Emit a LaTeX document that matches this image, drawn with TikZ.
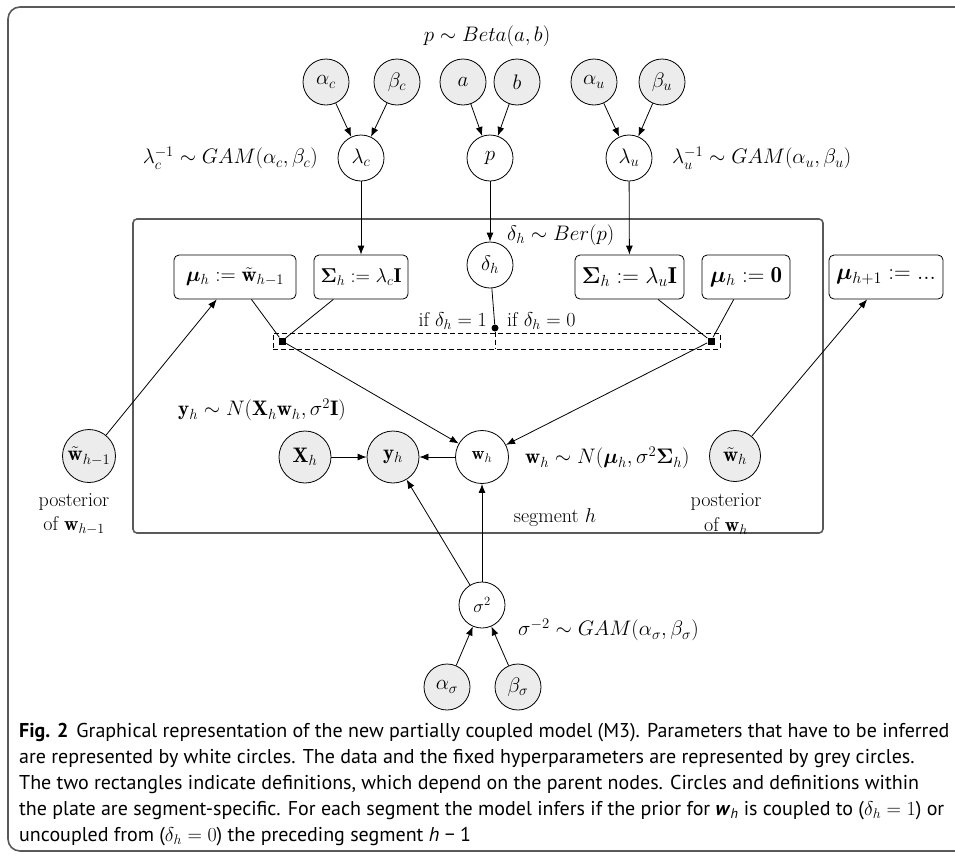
\RequirePackage{fix-cm}
\documentclass[tikz,border=0pt]{standalone}
\usepackage{amsmath}
\usepackage{bm}
\usepackage{fontspec}
\newfontfamily\capfont{PT Sans}
\usetikzlibrary{arrows.meta}
\begin{document}
\begin{tikzpicture}[x=1pt,y=-1pt,
  every node/.style={font=\fontsize{21}{25}\selectfont},
  hyp/.style={circle,draw,fill=gray!15,minimum size=46pt,inner sep=1pt,line width=0.8pt},
  par/.style={circle,draw,fill=white,minimum size=46pt,inner sep=1pt,line width=0.8pt},
  defbox/.style={draw,fill=white,rounded corners=5pt,minimum height=44pt,inner xsep=4pt,inner ysep=2pt,line width=0.8pt},
  arr/.style={-{Latex[length=9pt,width=7pt]},line width=0.8pt},
  con/.style={line width=0.8pt},
  lab/.style={inner sep=0pt},
  txt/.style={inner sep=0pt,font=\fontsize{20}{24}\selectfont},
  frame/.style={line width=1.6pt,black!65},
  capline/.style={inner sep=0pt,anchor=base west,font=\capfont\fontsize{20}{24}\selectfont}
]
\useasboundingbox (0,0) rectangle (955,857);
% outer frame
\draw[frame,rounded corners=12pt] (968,7) -- (8,7) -- (8,851) -- (968,851);
% plate
\draw[frame,rounded corners=4pt] (133,219) rectangle (823,533);

% top hyperparameters
\node[hyp] (ac) at (326,82) {$\alpha_c$};
\node[hyp] (bc) at (397,82) {$\beta_c$};
\node[hyp] (a)  at (463,82) {$a$};
\node[hyp] (b)  at (517,82) {$b$};
\node[hyp] (au) at (594,82) {$\alpha_u$};
\node[hyp] (bu) at (662,82) {$\beta_u$};
\node[lab] (lbeta) at (487,36) {$p \sim Beta(a,b)$};

\node[par] (lc) at (361,158) {$\lambda_c$};
\node[par] (p)  at (490,158) {$p$};
\node[par] (lu) at (629,158) {$\lambda_u$};
\node[lab,anchor=east] (llc) at (318,158) {$\lambda_c^{-1} \sim GAM(\alpha_c,\beta_c)$};
\node[lab,anchor=west] (llu) at (672,158) {$\lambda_u^{-1} \sim GAM(\alpha_u,\beta_u)$};

% definitions
\node[defbox,minimum width=122pt] (B1) at (235,277) {$\bm{\mu}_h := \tilde{\mathbf{w}}_{h-1}$};
\node[defbox,minimum width=94pt,font=\fontsize{20}{24}\selectfont] (B2) at (361,277) {$\bm{\Sigma}_h := \lambda_c\mathbf{I}$};
\node[defbox,minimum width=109pt,font=\fontsize{23}{27}\selectfont] (B3) at (629.5,277) {$\bm{\Sigma}_h := \lambda_u\mathbf{I}$};
\node[defbox,minimum width=88pt,font=\fontsize{23}{27}\selectfont] (B4) at (746,277) {$\bm{\mu}_h := \mathbf{0}$};
\node[defbox,minimum width=114pt,font=\fontsize{23}{27}\selectfont] (B5) at (886,277) {$\bm{\mu}_{h+1} := ...$};

\node[par] (dh) at (490,265) {$\delta_h$};
\node[lab,anchor=west] (lber) at (507,235) {$\delta_h \sim Ber(p)$};

% switch
\node[draw,dashed,dash pattern=on 5pt off 3pt,line width=0.8pt,minimum width=447pt,minimum height=16pt,inner sep=0pt] (drect) at (496.5,341) {};
\node[circle,fill,inner sep=0pt,minimum size=7pt] (dot) at (495,328) {};
\node[rectangle,fill,inner sep=0pt,minimum size=7pt] (sqL) at (282,341) {};
\node[rectangle,fill,inner sep=0pt,minimum size=7pt] (sqR) at (711,341) {};
\node[txt,anchor=east] (if1) at (487,321) {if $\delta_h = 1$};
\node[txt,anchor=west] (if0) at (507,321) {if $\delta_h = 0$};
\coordinate (dbot) at (dot |- drect.south);
\draw[con,dashed,dash pattern=on 5pt off 3pt] (dot) -- (dbot);

% data level
\node[hyp,minimum size=52pt] (Xh) at (305,457) {$\mathbf{X}_h$};
\node[hyp,minimum size=52pt] (yh) at (393,457) {$\mathbf{y}_h$};
\node[par,minimum size=53pt,font=\fontsize{18}{22}\selectfont] (wh) at (482,457) {$\mathbf{w}_h$};
\node[lab,anchor=west] (ly) at (178,410) {$\mathbf{y}_h \sim N(\mathbf{X}_h\mathbf{w}_h,\sigma^2\mathbf{I})$};
\node[lab,anchor=west] (lw) at (525,458) {$\mathbf{w}_h \sim N(\bm{\mu}_h,\sigma^2\bm{\Sigma}_h)$};
\node[txt] (seg) at (555,518) {segment $h$};

\node[hyp,minimum size=53pt,inner sep=2pt] (wp) at (89,456) {$\tilde{\mathbf{w}}_{h-1}$};
\node[txt] (post1) at (74,502) {posterior};
\node[txt] (of1) at (74,526) {of $\mathbf{w}_{h-1}$};
\node[hyp,minimum size=51pt] (wt) at (735,456) {$\tilde{\mathbf{w}}_h$};
\node[txt] (post2) at (726,502) {posterior};
\node[txt] (of2) at (726,526) {of $\mathbf{w}_h$};

% noise
\node[par,font=\fontsize{18}{22}\selectfont] (s2) at (482,605) {$\sigma^2$};
\node[lab,anchor=west] (ls) at (518,630) {$\sigma^{-2} \sim GAM(\alpha_\sigma,\beta_\sigma)$};
\node[hyp] (as) at (447,687) {$\alpha_\sigma$};
\node[hyp] (bs) at (518,687) {$\beta_\sigma$};

% connectors
\draw[arr] (ac) -- (lc);
\draw[arr] (bc) -- (lc);
\draw[arr] (a) -- (p);
\draw[arr] (b) -- (p);
\draw[arr] (au) -- (lu);
\draw[arr] (bu) -- (lu);
\draw[arr] (lc) -- (B2);
\draw[arr] (p) -- (dh);
\draw[arr] (lu) -- (B3);
\draw[con] (dh) -- (dot);
\draw[con] (B1) -- (sqL);
\draw[con] (B2) -- (sqL);
\draw[con] (B3) -- (sqR);
\draw[con] (B4) -- (sqR);
\draw[arr] (sqL) -- (wh);
\draw[arr] (sqR) -- (wh);
\draw[arr] (Xh) -- (yh);
\draw[arr] (wh) -- (yh);
\draw[arr] (s2) -- (yh);
\draw[arr] (s2) -- (wh);
\draw[arr] (as) -- (s2);
\draw[arr] (bs) -- (s2);
\draw[arr] (wp) -- (B1);
\draw[arr] (wt) -- (B5);

% caption
\node[capline] (c1) at (19,737) {\textbf{Fig. 2}\hspace{8pt}Graphical representation of the new partially coupled model (M3). Parameters that have to be inferred};
\node[capline] (c2) at (19,763) {are represented by white circles. The data and the fixed hyperparameters are represented by grey circles.};
\node[capline] (c3) at (19,789) {The two rectangles indicate definitions, which depend on the parent nodes. Circles and definitions within};
\node[capline] (c4) at (19,815) {the plate are segment-specific. For each segment the model infers if the prior for \textbf{\textit{w}}\textsubscript{\textit{h}} is coupled to ($\delta_h = 1$) or};
\node[capline] (c5) at (19,841) {uncoupled from ($\delta_h = 0$) the preceding segment \textit{h} − 1};
\end{tikzpicture}
\end{document}
